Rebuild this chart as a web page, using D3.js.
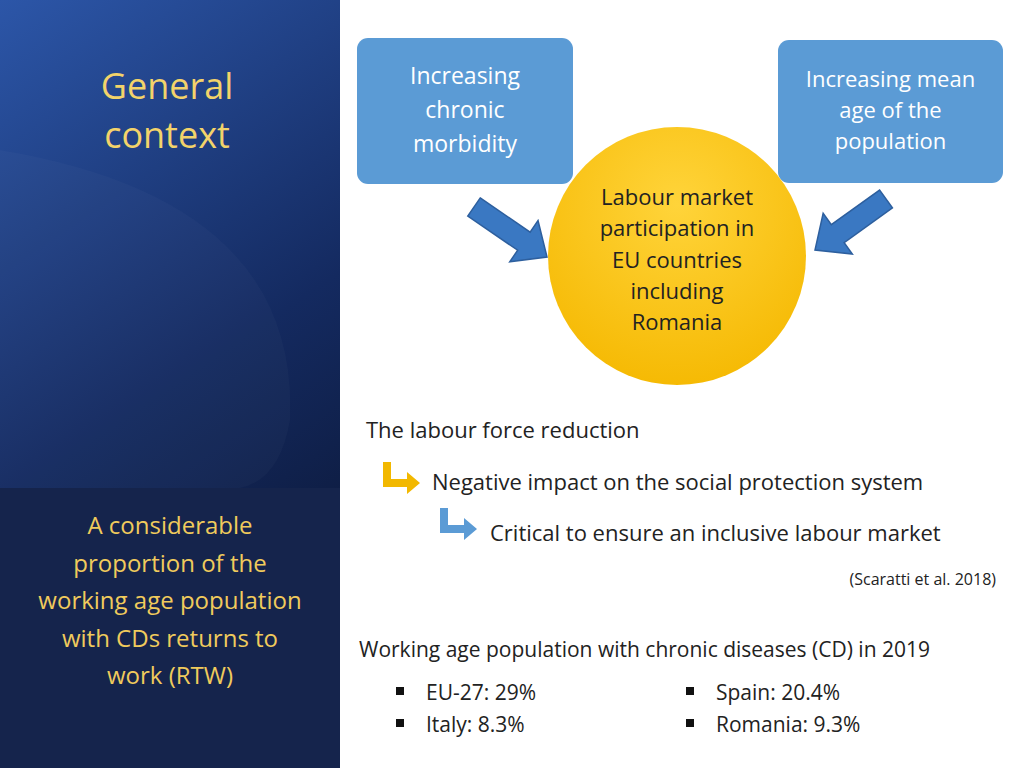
<!DOCTYPE html>
<html><head><meta charset="utf-8">
<script src="https://d3js.org/d3.v7.min.js"></script>
<style>body{margin:0;background:#fff}svg{display:block;font-family:"Open Sans",Lato,sans-serif}</style>
</head><body><svg width="1024" height="768"></svg>
<script>
// Slide content
const titleLines = ["General", "context"];
const sideLines = ["A considerable", "proportion of the", "working age population", "with CDs returns to", "work (RTW)"];
const boxLeft = ["Increasing", "chronic", "morbidity"];
const boxRight = ["Increasing mean", "age of the", "population"];
const circleLines = ["Labour market", "participation in", "EU countries", "including", "Romania"];
const steps = ["The labour force reduction", "Negative impact on the social protection system", "Critical to ensure an inclusive labour market"];
const citation = "(Scaratti et al. 2018)";
const cdTitle = "Working age population with chronic diseases (CD) in 2019";
const cdItems = [
    { name: "EU-27", value: "29%" },
    { name: "Spain", value: "20.4%" },
    { name: "Italy", value: "8.3%" },
    { name: "Romania", value: "9.3%" }
];

const svg = d3.select("svg");
const defs = svg.append("defs");

const lg = defs.append("linearGradient").attr("id", "side").attr("x1", 0).attr("y1", 0).attr("x2", 0.3).attr("y2", 1);
lg.append("stop").attr("offset", 0).attr("stop-color", "#2c56a8");
lg.append("stop").attr("offset", 0.6).attr("stop-color", "#142a60");
lg.append("stop").attr("offset", 1).attr("stop-color", "#0c1838");

const cg = defs.append("radialGradient").attr("id", "sun").attr("cx", 0.5).attr("cy", 0.3).attr("r", 0.75);
cg.append("stop").attr("offset", 0).attr("stop-color", "#ffd43a");
cg.append("stop").attr("offset", 1).attr("stop-color", "#f5b800");

// Left panel
svg.append("rect").attr("width", 340).attr("height", 768).attr("fill", "url(#side)");
svg.append("path").attr("d", "M0,150 Q300,200 290,420 Q280,480 240,488 L0,488 Z").attr("fill", "#ffffff").attr("opacity", 0.025);
svg.append("rect").attr("y", 488).attr("width", 340).attr("height", 280).attr("fill", "#15244c");

svg.append("g").selectAll("text").data(titleLines).join("text")
    .attr("x", 167).attr("y", (d, i) => 99 + i * 49)
    .attr("text-anchor", "middle").attr("font-size", 36).attr("fill", "#f3d36a").text(d => d);

svg.append("g").selectAll("text").data(sideLines).join("text")
    .attr("x", 170).attr("y", (d, i) => 534 + i * 37.5)
    .attr("text-anchor", "middle").attr("font-size", 24).attr("fill", "#f0cb5c").text(d => d);

// Boxes
function box(x, y, w, h, lines, y0, dy, fs) {
    svg.append("rect").attr("x", x).attr("y", y).attr("width", w).attr("height", h)
        .attr("rx", 11).attr("fill", "#5b9bd5");
    svg.append("g").selectAll("text").data(lines).join("text")
        .attr("x", x + w / 2).attr("y", (d, i) => y0 + i * dy)
        .attr("text-anchor", "middle").attr("font-size", fs).attr("fill", "#fff").text(d => d);
}
box(357, 38, 216, 146, boxLeft, 84, 34, 23);
box(778, 40, 225, 143, boxRight, 87, 31, 22);

// Arrows
function arrow(x1, y1, x2, y2) {
    const a = Math.atan2(y2 - y1, x2 - x1) * 180 / Math.PI;
    const L = Math.hypot(x2 - x1, y2 - y1);
    svg.append("path")
        .attr("d", `M0,-11 L${L - 28},-11 L${L - 28},-25 L${L},0 L${L - 28},25 L${L - 28},11 L0,11 Z`)
        .attr("transform", `translate(${x1},${y1}) rotate(${a})`)
        .attr("fill", "#3a78c2").attr("stroke", "#2d5f9e").attr("stroke-width", 1.5);
}
arrow(474, 207, 547, 257);
arrow(886, 199, 815, 250);

// Circle
svg.append("circle").attr("cx", 677).attr("cy", 256).attr("r", 129).attr("fill", "url(#sun)");
svg.append("g").selectAll("text").data(circleLines).join("text")
    .attr("x", 677).attr("y", (d, i) => 205 + i * 31.3)
    .attr("text-anchor", "middle").attr("font-size", 22).attr("fill", "#222").text(d => d);

// Steps
svg.append("text").attr("x", 366).attr("y", 438).attr("font-size", 22).attr("fill", "#222").text(steps[0]);
function elbow(x, y, color) {
    svg.append("path")
        .attr("d", `M${x},${y} h8 v17 h16 v-7 l13,11 l-13,11 v-7 h-24 Z`)
        .attr("fill", color);
}
elbow(383, 462, "#f2b800");
svg.append("text").attr("x", 432).attr("y", 490).attr("font-size", 22).attr("fill", "#222").text(steps[1]);
elbow(440, 508, "#5b9bd5");
svg.append("text").attr("x", 490).attr("y", 541).attr("font-size", 22).attr("fill", "#222").text(steps[2]);
svg.append("text").attr("x", 996).attr("y", 585).attr("text-anchor", "end").attr("font-size", 16).attr("fill", "#222").text(citation);

// CD figures
svg.append("text").attr("x", 359).attr("y", 657).attr("font-size", 21).attr("fill", "#222").text(cdTitle);
const items = svg.append("g").selectAll("g").data(cdItems).join("g")
    .attr("transform", (d, i) => `translate(${i % 2 ? 686 : 396},${i < 2 ? 692 : 724})`);
items.append("rect").attr("x", 0).attr("y", -5).attr("width", 8).attr("height", 8).attr("fill", "#111");
items.append("text").attr("x", 30).attr("y", 8).attr("font-size", 21).attr("fill", "#222").text(d => `${d.name}: ${d.value}`);
</script></body></html>
